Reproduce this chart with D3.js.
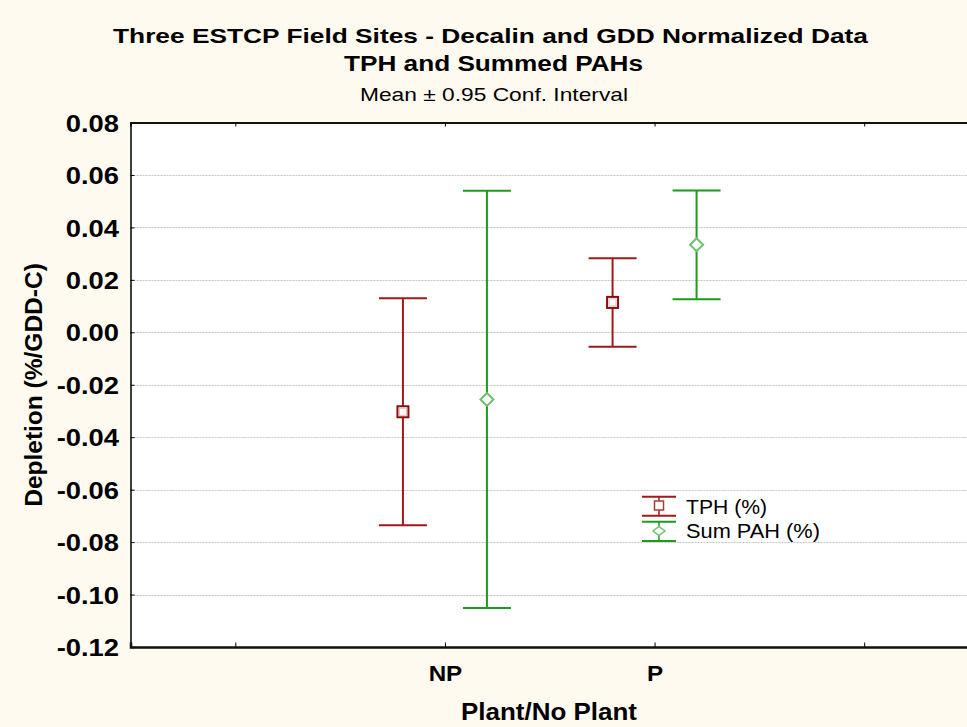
<!DOCTYPE html>
<html><head><meta charset="utf-8">
<script src="https://cdn.jsdelivr.net/npm/d3@7"></script>
<style>body{margin:0;background:#FFFAEF;}svg{display:block;font-family:"Liberation Sans",Arial,sans-serif;}</style>
</head><body><svg id="c" width="967" height="727"></svg>
<script>
const categories = ["", "NP", "P", ""];
const groups = ["NP", "P"];
const seriesNames = ["TPH (%)", "Sum PAH (%)"];
const tphMean = [-0.0303, 0.0114];
const tphLow = [-0.0736, -0.0055];
const tphHigh = [0.0130, 0.0282];
const pahMean = [-0.0256, 0.0334];
const pahLow = [-0.1051, 0.0126];
const pahHigh = [0.0540, 0.0541];
const yTicks = [0.08, 0.06, 0.04, 0.02, 0.00, -0.02, -0.04, -0.06, -0.08, -0.10, -0.12];

const svg = d3.select("#c");
const W = 967, H = 727;
svg.append("rect").attr("width", W).attr("height", H).attr("fill", "#FFFAEF");
const L = 130.5, R = 969, T = 122.5, B = 647;
const x = d3.scalePoint().domain(d3.range(categories.length)).range([L, R]).padding(0.5);
const y = d3.scaleLinear().domain([-0.12, 0.08]).range([B, T]);

function fitWidth(sel, w) { sel.attr("textLength", w).attr("lengthAdjust", "spacingAndGlyphs"); }
function stretch(sel, f) {
  sel.each(function () { const n = this.getComputedTextLength(); d3.select(this).attr("textLength", n * f).attr("lengthAdjust", "spacingAndGlyphs"); });
}

svg.append("rect").attr("x", L).attr("y", T).attr("width", R - L).attr("height", B - T).attr("fill", "#fff");

// gridlines
svg.append("g").selectAll("line").data(yTicks.filter(d => d > -0.12 && d < 0.08)).join("line")
  .attr("x1", L).attr("x2", R).attr("y1", d => Math.round(y(d)) + 0.5).attr("y2", d => Math.round(y(d)) + 0.5)
  .attr("stroke", "#c4c4c4").attr("stroke-width", 1).attr("stroke-dasharray", "2,1");

// axes
const yAxis = d3.axisLeft(y).tickValues(yTicks).tickSize(-4).tickPadding(11.5)
  .tickFormat(d => d3.format(".2f")(d).replace("−", "-"));
const gy = svg.append("g").attr("transform", `translate(${L},0)`).call(yAxis);
gy.select(".domain").attr("stroke", "#000").attr("stroke-width", 1.5);
gy.selectAll(".tick line").attr("stroke", "#000");
gy.selectAll("text").attr("font-size", 24).attr("font-weight", "bold").attr("fill", "#000").attr("dy", "0.36em");
stretch(gy.selectAll("text"), 1.14);

const xAxis = d3.axisBottom(x).tickSize(-4.5).tickPadding(18).tickFormat(i => categories[i]);
const gx = svg.append("g").attr("transform", `translate(0,${B})`).call(xAxis);
gx.select(".domain").attr("stroke", "#111").attr("stroke-width", 2.5);
gx.selectAll(".tick line").attr("stroke", "#000");
gx.selectAll("text").attr("font-size", 22).attr("font-weight", "bold").attr("fill", "#000");
stretch(gx.selectAll("text"), 1.1);

const xTop = d3.axisTop(x).tickSize(-4).tickFormat("");
const gt = svg.append("g").attr("transform", `translate(0,${T})`).call(xTop);
gt.select(".domain").attr("stroke", "#111").attr("stroke-width", 2);
gt.selectAll(".tick line").attr("stroke", "#000");

const red = "#a01a1a", green = "#1f9a1f";
const off = 42, capW = 24;
function drawMarker(g, cx, cy, shape, s) {
  if (shape === "square") {
    g.append("rect").attr("x", cx - s).attr("y", cy - s).attr("width", 2 * s).attr("height", 2 * s)
      .attr("fill", "#fff").attr("stroke", "#8b0e0e").attr("stroke-width", 2);
    g.append("rect").attr("x", cx - s + 2).attr("y", cy - s + 2).attr("width", 2 * s - 4).attr("height", 2 * s - 4)
      .attr("fill", "#fff").attr("stroke", "#e8b8b8").attr("stroke-width", 1);
  } else {
    const d = s + 1;
    g.append("path").attr("d", `M${cx},${cy - d}L${cx + d},${cy}L${cx},${cy + d}L${cx - d},${cy}Z`)
      .attr("fill", "#fff").attr("stroke", "#6cc06c").attr("stroke-width", 2);
  }
}
function drawSeries(means, lows, highs, color, dx, shape) {
  const g = svg.append("g");
  groups.forEach((grp, i) => {
    const cx = x(categories.indexOf(grp)) + dx;
    g.append("line").attr("x1", cx).attr("x2", cx).attr("y1", y(highs[i])).attr("y2", y(lows[i]))
      .attr("stroke", color).attr("stroke-width", 2);
    [highs[i], lows[i]].forEach(v => g.append("line").attr("x1", cx - capW).attr("x2", cx + capW)
      .attr("y1", y(v)).attr("y2", y(v)).attr("stroke", color).attr("stroke-width", 2));
    drawMarker(g, cx, y(means[i]), shape, 5.5);
  });
}
drawSeries(tphMean, tphLow, tphHigh, red, -off, "square");
drawSeries(pahMean, pahLow, pahHigh, green, off, "diamond");

// legend
const lg = svg.append("g");
const lx = 659;
const legRows = [[red, "square", 505.5, 496.7, 515.7, 514, 81], [green, "diamond", 531, 521.7, 541, 537.7, 134]];
legRows.forEach((s, i) => {
  const [c, shape, cy, t, b, base, w] = s;
  lg.append("line").attr("x1", lx).attr("x2", lx).attr("y1", t).attr("y2", b).attr("stroke", c).attr("stroke-width", 1.5);
  [t, b].forEach(v => lg.append("line").attr("x1", lx - 17).attr("x2", lx + 17).attr("y1", v).attr("y2", v).attr("stroke", c).attr("stroke-width", 2));
  if (shape === "square") {
    lg.append("rect").attr("x", lx - 4.5).attr("y", cy - 4.5).attr("width", 9).attr("height", 9)
      .attr("fill", "#fff").attr("stroke", "#a83a3a").attr("stroke-width", 1.5);
  } else {
    lg.append("path").attr("d", `M${lx},${cy - 4.5}L${lx + 6},${cy}L${lx},${cy + 4.5}L${lx - 6},${cy}Z`)
      .attr("fill", "#fff").attr("stroke", "#6cc06c").attr("stroke-width", 1.5);
  }
  const t2 = lg.append("text").attr("x", 686).attr("y", base).attr("font-size", 20).attr("fill", "#000").text(seriesNames[i]);
  fitWidth(t2, w);
});

// titles
fitWidth(svg.append("text").attr("x", 490.5).attr("y", 43.3).attr("text-anchor", "middle").attr("font-size", 21).attr("font-weight", "bold").text("Three ESTCP Field Sites - Decalin and GDD Normalized Data"), 755);
fitWidth(svg.append("text").attr("x", 493.5).attr("y", 70.7).attr("text-anchor", "middle").attr("font-size", 22).attr("font-weight", "bold").text("TPH and Summed PAHs"), 299);
fitWidth(svg.append("text").attr("x", 494).attr("y", 100.7).attr("text-anchor", "middle").attr("font-size", 18.5).text("Mean ± 0.95 Conf. Interval"), 268);
fitWidth(svg.append("text").attr("x", 549).attr("y", 720).attr("text-anchor", "middle").attr("font-size", 24).attr("font-weight", "bold").text("Plant/No Plant"), 176);
svg.append("text").attr("transform", "translate(42,385) rotate(-90)").attr("text-anchor", "middle").attr("font-size", 24.5).attr("font-weight", "bold").text("Depletion (%/GDD-C)");
</script></body></html>
